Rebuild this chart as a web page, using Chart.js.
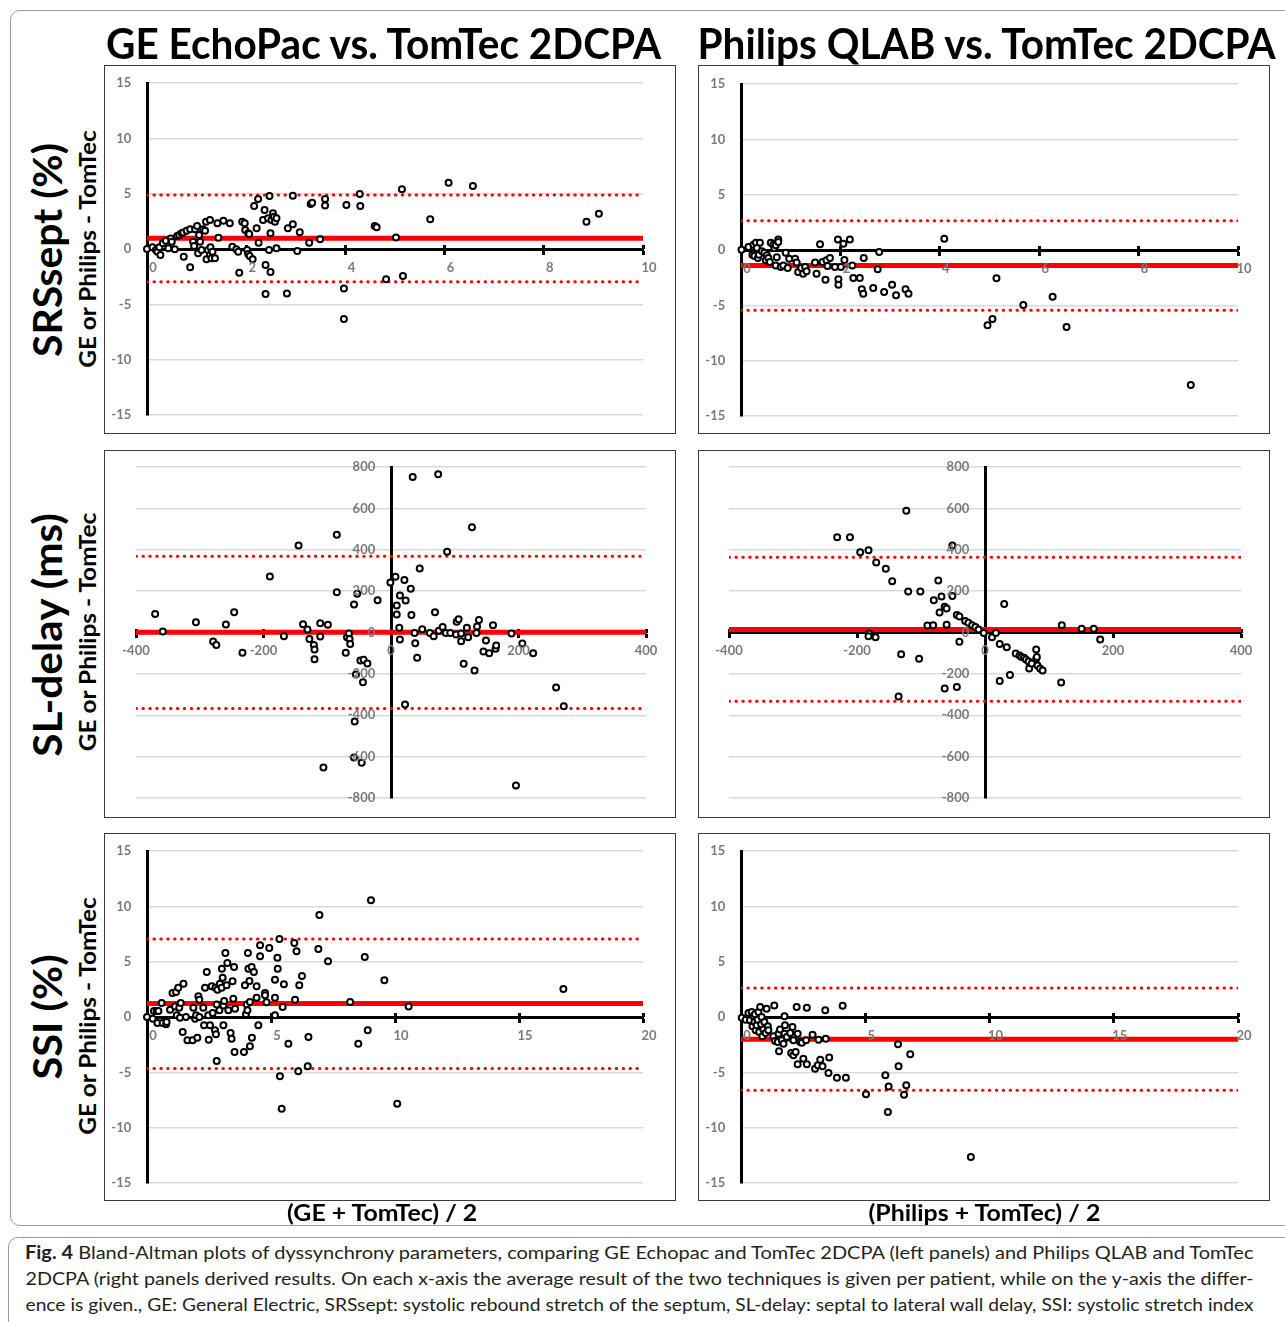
<!DOCTYPE html>
<html><head><meta charset="utf-8">
<script src="https://cdn.jsdelivr.net/npm/chart.js@4.4.1/dist/chart.umd.min.js"></script>
<style>
html,body{margin:0;padding:0;background:#fff;width:1285px;height:1322px;overflow:hidden;position:relative;font-family:Lato,sans-serif}
.frame{position:absolute;left:10px;top:10px;width:1300px;height:1216px;border:1px solid #9a9a9a;border-radius:10px;box-sizing:border-box}
.capbox{position:absolute;left:8px;top:1237px;width:1300px;height:140px;border:1px solid #9a9a9a;border-radius:10px;box-sizing:border-box}
.panel{position:absolute;border:1px solid #3a3a3a;box-sizing:border-box;background:#fff}
.panel canvas{position:absolute;left:0;top:0}
.t{position:absolute;white-space:nowrap;color:#000;line-height:1;font-family:Lato,sans-serif}
</style>
</head><body>
<div class="frame"></div>
<div class="capbox"></div>
<script>
// ---------- axis ranges [min, max, step] ----------
const srsX = [0, 10, 2];
const srsY = [-15, 15, 5];
const slX = [-400, 400, 200];
const slY = [-800, 800, 200];
const ssiX = [0, 20, 5];
const ssiY = [-15, 15, 5];

// ---------- bias statistics [mean, upper LoA, lower LoA] ----------
const srsGEStats = [0.97, 4.88, -2.95];
const srsPHStats = [-1.40, 2.65, -5.45];
const slGEStats = [1, 369, -367];
const slPHStats = [15, 364, -332];
const ssiGEStats = [1.21, 7.05, -4.66];
const ssiPHStats = [-2.0, 2.63, -6.63];

// ---------- data points [average, difference] ----------
const srsGE = [[0,0],[0.11,0.15],[0.18,-0.09],[0.21,-0.24],[0.25,0.15],[0.27,-0.54],[0.32,0.51],[0.38,0.75],[0.43,0.06],[0.48,0.96],[0.50,0.66],[0.56,-0.03],[0.61,1.17],[0.65,1.27],[0.70,1.42],[0.73,1.48],[0.80,1.66],[0.87,1.78],[0.93,0.66],[0.95,0.27],[0.97,1.78],[1.01,2.08],[1.03,-0.39],[1.05,1.27],[1.07,0.66],[1.10,-0.09],[1.13,1.78],[1.17,1.66],[1.19,2.47],[1.20,-0.93],[1.23,-0.09],[1.27,2.62],[1.27,-0.54],[1.28,0.15],[1.30,-0.84],[1.32,-0.24],[1.37,-0.84],[1.42,2.32],[1.44,1.02],[0.87,-1.66],[0.74,-0.69],[1.54,2.56],[1.67,2.32],[1.72,0.21],[1.80,-0.03],[1.84,-0.24],[1.86,-2.14],[1.92,2.47],[1.97,2.32],[1.98,1.72],[2.02,-0.09],[2.04,1.42],[2.06,1.36],[2.04,-0.45],[2.07,-0.63],[2.13,-0.93],[2.16,3.89],[2.21,1.87],[2.24,4.52],[2.25,0.57],[2.34,2.62],[2.37,3.52],[2.39,-1.45],[2.39,-4.07],[2.44,2.77],[2.46,-0.09],[2.47,4.79],[2.49,1.42],[2.49,-2.08],[2.51,2.62],[2.54,3.22],[2.56,2.92],[2.58,2.47],[2.61,2.77],[2.61,0.06],[2.82,-4.01],[2.84,1.87],[2.94,2.23],[2.94,4.82],[3.03,-0.18],[3.08,1.51],[3.27,0.57],[3.30,4.07],[3.33,4.19],[3.49,0.87],[3.59,4.52],[3.59,3.92],[3.97,-3.58],[3.97,-6.33],[4.02,3.98],[4.29,4.97],[4.30,3.89],[4.59,2.08],[4.63,1.96],[4.82,-2.74],[5.02,1.05],[5.14,5.39],[5.16,-2.44],[6.08,5.99],[6.57,5.69],[5.71,2.68],[8.86,2.47],[9.11,3.19]];

const srsPH = [[0.01,0.03],[0.15,0.27],[0.25,0.48],[0.30,0.66],[0.38,0.66],[0.32,0.18],[0.23,-0.42],[0.27,-0.54],[0.34,-0.72],[0.36,-0.42],[0.42,-0.12],[0.47,-0.24],[0.50,-0.93],[0.52,-0.48],[0.55,-0.72],[0.58,-1.08],[0.60,0.66],[0.65,0.48],[0.67,0.18],[0.70,0.42],[0.72,-0.66],[0.75,0.96],[0.70,-1.39],[0.75,0.72],[0.80,-1.54],[0.85,-1.39],[0.90,-0.24],[0.94,-1.63],[0.97,-0.78],[1.09,-0.78],[1.12,-1.14],[1.15,-1.99],[1.21,-1.63],[1.25,-2.14],[1.29,-1.54],[1.32,-1.93],[1.49,-1.14],[1.52,-2.14],[1.59,0.51],[1.64,-1.08],[1.70,-2.68],[1.72,-0.93],[1.74,-1.45],[1.79,-0.72],[1.89,-1.54],[1.95,0.96],[1.96,-2.65],[1.96,-3.13],[2.01,-1.54],[2.06,0.57],[2.08,-0.90],[2.19,0.96],[2.24,-1.39],[2.26,-2.53],[2.39,-2.53],[2.43,-3.55],[2.46,-3.95],[2.47,-0.72],[2.66,-3.43],[2.75,-1.75],[2.78,-0.18],[2.88,-3.80],[3.04,-3.13],[3.12,-4.10],[3.31,-3.55],[3.37,-3.95],[4.09,1.02],[5.14,-2.56],[4.96,-6.80],[5.06,-6.23],[5.68,-4.97],[6.27,-4.22],[6.55,-6.96],[9.05,-12.2]];

const slGE = [[-370,90],[-358,5],[-306,50],[-279,-43],[-274,-60],[-259,39],[-246,98],[-233,-98],[-190,271],[-168,-18],[-145,420],[-138,40],[-131,14],[-128,-31],[-121,-61],[-120,-82],[-120,-129],[-111,45],[-111,-19],[-106,-652],[-99,37],[-85,473],[-85,195],[-71,-98],[-69,-23],[-66,-5],[-65,-31],[-64,-55],[-58,135],[-58,-604],[-57,-430],[-53,187],[-55,-203],[-48,-135],[-43,-132],[-37,-150],[-44,-240],[-46,-630],[-21,156],[-1,242],[7,269],[14,179],[9,130],[9,87],[13,23],[14,-34],[21,254],[23,155],[31,211],[32,85],[34,752],[37,-3],[38,-52],[41,-122],[45,309],[22,-348],[49,16],[61,-3],[67,-18],[69,98],[74,765],[75,8],[81,27],[86,-3],[88,390],[93,-3],[102,-10],[103,52],[106,64],[110,-5],[110,-42],[114,-151],[119,23],[121,-23],[127,509],[131,-184],[134,-2],[135,29],[138,61],[149,-39],[145,-92],[154,-100],[160,35],[164,-79],[165,-63],[189,-5],[206,-53],[223,-100],[259,-266],[271,-356],[196,-739]];

const slPH = [[-231,461],[-211,461],[-195,388],[-182,398],[-170,338],[-155,308],[-145,248],[-123,588],[-120,198],[-101,198],[-181,-5],[-182,-18],[-171,-23],[-131,-105],[-103,-127],[-135,-309],[-90,34],[-81,35],[-73,251],[-80,156],[-68,174],[-71,97],[-63,124],[-60,116],[-60,37],[-51,420],[-51,177],[-63,-271],[-44,-264],[-44,84],[-40,77],[-40,-45],[-31,56],[-26,47],[-20,35],[-15,26],[-10,14],[-2,-2],[11,-23],[17,-3],[23,-55],[23,-235],[30,138],[34,-71],[39,-205],[48,-101],[54,-111],[57,-118],[61,-122],[64,-130],[68,-140],[69,-174],[73,-150],[80,-82],[80,-127],[81,-118],[82,-159],[86,-174],[90,-184],[119,-242],[120,35],[151,18],[170,18],[180,-34]];

const ssiGE = [[0,0],[0.23,-0.15],[0.28,0.54],[0.39,0.54],[0.46,0.54],[0.42,-0.54],[0.59,1.27],[0.63,-0.54],[0.77,-0.66],[0.79,-0.45],[0.93,0.66],[1.03,2.17],[1.13,0.96],[1.17,2.26],[1.20,0.15],[1.26,2.65],[1.30,0.84],[1.33,-0.06],[1.36,1.27],[1.44,-1.36],[1.47,3.01],[1.57,0],[1.63,-2.11],[1.84,-2.11],[1.87,0.84],[1.94,-0.15],[1.98,0.15],[2.03,-1.87],[2.07,1.87],[2.11,1.57],[2.11,0],[2.27,0.84],[2.30,-0.75],[2.34,2.65],[2.41,4.07],[2.47,0.15],[2.49,-2.05],[2.54,-0.75],[2.61,2.77],[2.65,0.36],[2.74,-1.20],[2.76,2.65],[2.78,-1.57],[2.81,-3.98],[2.81,1.14],[2.84,2.47],[2.92,0.60],[2.94,3.01],[3.01,2.65],[3.02,4.37],[3.05,3.55],[3.08,1.05],[3.08,-0.75],[3.11,1.45],[3.16,5.78],[3.21,2.86],[3.24,4.88],[3.28,0.60],[3.37,-1.45],[3.41,-1.96],[3.45,3.22],[3.48,1.66],[3.51,4.52],[3.53,-3.16],[3.55,0.75],[3.91,-3.16],[3.95,2.86],[3.99,0.24],[4.02,1.14],[4.05,0.60],[4.07,5.78],[4.09,4.37],[4.13,3.25],[4.15,-2.65],[4.15,1.36],[4.22,4.52],[4.23,-1.87],[4.31,4.07],[4.42,2.77],[4.42,1.75],[4.49,-0.75],[4.56,6.48],[4.56,5.48],[4.76,2.17],[4.76,1.96],[4.82,1.33],[4.93,6.23],[5.16,3.37],[5.16,1.75],[5.16,0.15],[5.26,5.36],[5.27,4.37],[5.34,7.05],[5.36,-5.36],[5.43,-8.28],[5.47,0.90],[5.52,2.95],[5.70,-2.41],[5.94,6.69],[5.97,1.57],[6.03,5.93],[6.10,-4.91],[6.14,2.86],[6.25,3.70],[6.48,-4.46],[6.51,-1.81],[6.91,6.14],[6.95,9.22],[7.30,5.03],[8.19,1.36],[8.52,-2.41],[8.78,5.42],[8.90,-1.20],[9.03,10.54],[9.57,3.31],[10.09,-7.83],[10.55,0.96],[16.79,2.53]];

const ssiPH = [[0.03,-0.06],[0.19,-0.24],[0.30,0.36],[0.36,-0.30],[0.43,0.45],[0.46,-0.84],[0.50,0.06],[0.54,-0.45],[0.56,0.24],[0.59,-1.20],[0.63,-0.75],[0.67,-0.24],[0.70,0.45],[0.73,-1.36],[0.77,0.90],[0.81,-0.66],[0.83,0],[0.86,-1.75],[0.90,-1.14],[0.94,-0.45],[0.99,-1.45],[1.03,0.75],[1.08,-0.84],[1.10,-1.20],[1.30,-1.75],[1.34,1.05],[1.37,-2.17],[1.48,-2.26],[1.51,-1.51],[1.53,-3.10],[1.57,-1.14],[1.64,-2.11],[1.71,-2.41],[1.75,0.06],[1.75,-1.51],[1.77,-0.75],[1.84,-1.81],[1.98,-1.45],[2.02,-3.25],[2.07,-0.90],[2.11,-2.11],[2.11,-3.46],[2.20,-3.16],[2.24,0.90],[2.28,-1.51],[2.28,-4.28],[2.38,-2.26],[2.45,-2.32],[2.51,-3.77],[2.62,-2.11],[2.65,-4.28],[2.65,0.84],[2.88,-1.60],[2.98,-4.67],[3.09,-4.37],[3.12,-2.05],[3.19,-3.86],[3.28,-4.46],[3.39,0.60],[3.41,-1.96],[3.52,-5.06],[3.55,-3.67],[3.86,-5.48],[4.09,1.02],[4.22,-5.48],[5.03,-6.99],[5.81,-5.27],[5.91,-8.58],[5.94,-6.27],[6.32,-2.47],[6.34,-4.46],[6.56,-7.02],[6.65,-6.17],[6.81,-3.37],[9.25,-12.65]];

// ---------- layout (page pixels) ----------
const PANELS = [
  {box:[104,65,676,434],  area:[147,83,643,415],   pts:srsGE, st:srsGEStats, xr:srsX, yr:srsY, lo:6},
  {box:[698,65,1270,434], area:[741,84,1238,416],  pts:srsPH, st:srsPHStats, xr:srsX, yr:srsY, lo:6},
  {box:[104,450,676,818], area:[136,467,646,798],  pts:slGE,  st:slGEStats,  xr:slX,  yr:slY,  lo:0},
  {box:[698,450,1270,818],area:[729,467,1241,798], pts:slPH,  st:slPHStats,  xr:slX,  yr:slY,  lo:0},
  {box:[104,833,676,1201],area:[147,851,643,1183], pts:ssiGE, st:ssiGEStats, xr:ssiX, yr:ssiY, lo:6},
  {box:[698,833,1270,1201],area:[741,851,1238,1183],pts:ssiPH, st:ssiPHStats, xr:ssiX, yr:ssiY, lo:6}
];

const TICK_COLOR = '#7a7a7a';
const TICK_FONT = {family:'Lato', size:13, weight:'bold'};
const Y_GAP = '     '; // spacing between y tick labels and the vertical axis

function buildPanel(p){
  const W = p.box[2]-p.box[0], H = p.box[3]-p.box[1];
  const div = document.createElement('div');
  div.className = 'panel';
  Object.assign(div.style,{left:p.box[0]+'px',top:p.box[1]+'px',width:W+'px',height:H+'px'});
  const cv = document.createElement('canvas');
  const cw = W-2, ch = H-2;
  cv.width = cw; cv.height = ch; cv.style.width = cw+'px'; cv.style.height = ch+'px';
  div.appendChild(cv); document.body.appendChild(div);
  const ox = p.box[0]+1, oy = p.box[1]+1;
  const pad = {left:p.area[0]-ox, top:p.area[1]-oy, right:(ox+cw)-p.area[2], bottom:(oy+ch)-p.area[3]};
  const xs = [p.xr[0], p.xr[1]];
  const line = (v, dotted) => ({
    showLine:true, data: xs.map(x => ({x:x, y:v})),
    borderColor:'#ff0000', borderWidth: dotted ? 3 : 5,
    borderDash: dotted ? [0.5, 6.4] : [], borderCapStyle: dotted ? 'round' : 'butt',
    pointRadius:0, fill:false
  });
  new Chart(cv, {
    type:'scatter',
    data:{datasets:[
      {data:p.pts.map(([x,y]) => ({x:x, y:y})), pointRadius:3, pointBorderWidth:2,
       pointBorderColor:'#000', pointBackgroundColor:'#fff', showLine:false, clip:false},
      line(p.st[0], false), line(p.st[1], true), line(p.st[2], true)
    ]},
    options:{
      responsive:false, animation:false, events:[],
      layout:{padding:pad},
      plugins:{legend:{display:false}, tooltip:{enabled:false}},
      scales:{
        x:{type:'linear', min:p.xr[0], max:p.xr[1], position:{y:0},
           ticks:{stepSize:p.xr[2], autoSkip:false, maxRotation:0, color:TICK_COLOR, font:TICK_FONT, padding:7, labelOffset:p.lo, z:1},
           grid:{drawOnChartArea:false, drawTicks:true, tickLength:4, tickWidth:3, tickColor:'#000'},
           border:{display:true, color:'#000', width:3}},
        x2:{type:'linear', min:p.xr[0], max:p.xr[1], position:{y:0},
           ticks:{stepSize:p.xr[2], display:false},
           grid:{drawOnChartArea:false, drawTicks:true, tickLength:-4, tickWidth:3, tickColor:'#000'},
           border:{display:false}},
        y:{type:'linear', min:p.yr[0], max:p.yr[1], position:{x:0},
           ticks:{stepSize:p.yr[2], autoSkip:false, color:TICK_COLOR, font:TICK_FONT, padding:0, z:1,
                  callback:(v) => v + Y_GAP},
           grid:{color:'#d9d9d9', lineWidth:1.5, drawTicks:false},
           border:{display:true, color:'#000', width:3}}
      }
    }
  });
}
PANELS.forEach(buildPanel);

// ---------- text ----------
function fitText(html, cx, cy, fs, tw, rot, weight){
  const el = document.createElement('div');
  el.className = 't';
  el.innerHTML = html;
  el.style.fontSize = fs+'px';
  el.style.fontWeight = weight;
  document.body.appendChild(el);
  const w = el.offsetWidth, h = el.offsetHeight;
  el.style.left = (cx - w/2)+'px';
  el.style.top = (cy - h/2)+'px';
  el.style.transform = (rot ? 'rotate(-90deg) ' : '') + 'scaleX(' + (tw/w) + ')';
  return el;
}
fitText('GE EchoPac vs. TomTec 2DCPA', 383, 43, 42, 555, false, 'bold');
fitText('Philips QLAB vs. TomTec 2DCPA', 986, 43, 42, 578, false, 'bold');
fitText('SRSsept (%)', 47, 250, 40, 214, true, 'bold');
fitText('GE or Philips - TomTec', 88, 249, 22, 238, true, 'bold');
fitText('SL-delay (ms)', 47, 635, 40, 244, true, 'bold');
fitText('GE or Philips - TomTec', 88, 632, 22, 239, true, 'bold');
fitText('SSI (%)', 47, 1017, 40, 125, true, 'bold');
fitText('GE or Philips - TomTec', 88, 1016, 22, 238, true, 'bold');
fitText('(GE + TomTec) / 2', 382, 1213, 22, 190, false, 'bold');
fitText('(Philips + TomTec) / 2', 984, 1213, 22, 232, false, 'bold');

const capLines = [
  '<b>Fig. 4</b> Bland-Altman plots of dyssynchrony parameters, comparing GE Echopac and TomTec 2DCPA (left panels) and Philips QLAB and TomTec',
  '2DCPA (right panels derived results. On each x-axis the average result of the two techniques is given per patient, while on the y-axis the differ-',
  'ence is given., GE: General Electric, SRSsept: systolic rebound stretch of the septum, SL-delay: septal to lateral wall delay, SSI: systolic stretch index'
];
const capY = [1252, 1278, 1304];
capLines.forEach((t,i) => {
  const el = fitText(t, 639, capY[i], 18, 1228, false, 'normal');
  el.style.color = '#231f20';
});
</script>
</body></html>
